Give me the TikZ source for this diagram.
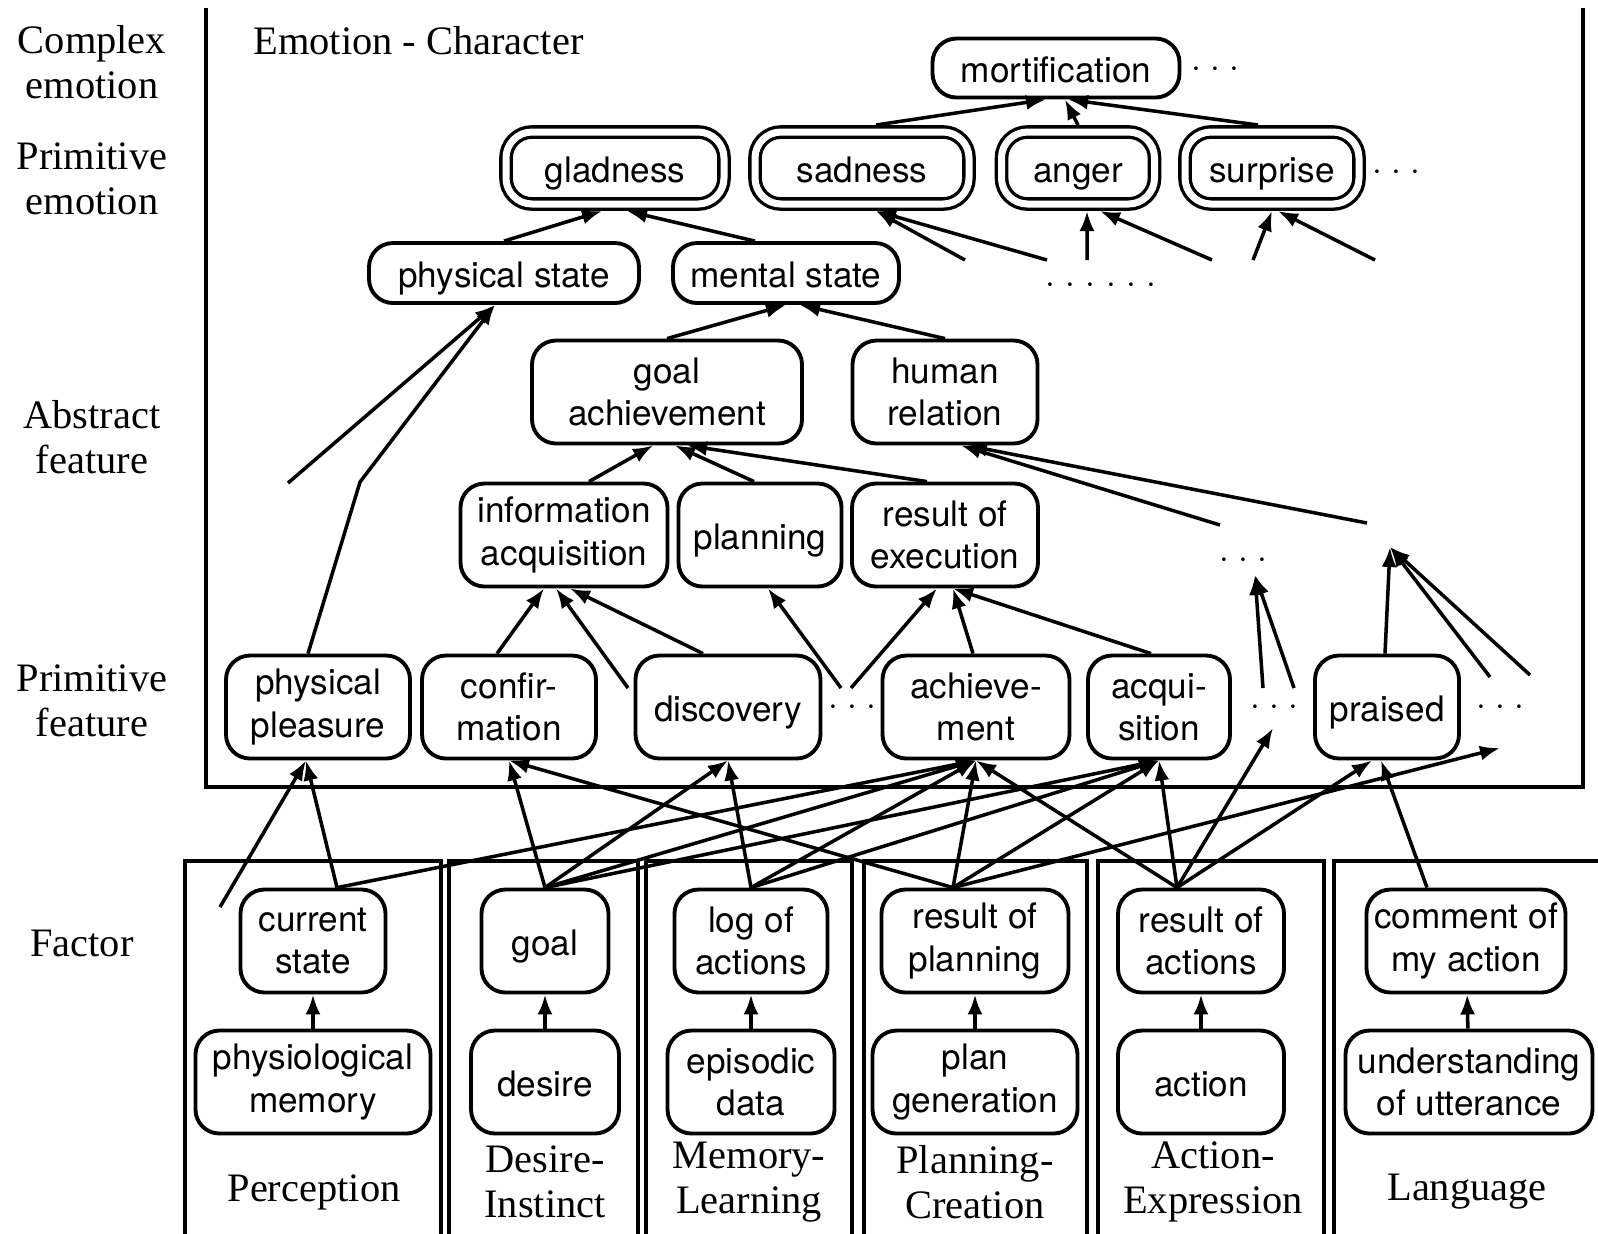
\documentclass[tikz,border=0pt]{standalone}
\usepackage{fontspec}
\setmainfont{Liberation Serif}
\setsansfont{TeX Gyre Heros}
\usetikzlibrary{arrows.meta}
\newcommand{\mdots}{·\kern2.6pt·\kern2.6pt·}
\newcommand{\sixdots}{·\kern3pt·\kern3pt·\kern3pt·\kern3pt·\kern3pt·}

\begin{document}
\begin{tikzpicture}[x=0.1mm, y=-0.1mm, line width=1pt, font=\sffamily\fontsize{10}{12}\selectfont,
  nodebox/.style={draw, line width=1.1pt, rounded corners=2.4mm, align=center, inner sep=0pt, minimum height=10.3mm},
  oneline/.style={text height=9pt, text depth=1pt},
  emo/.style={draw, double, double distance=0.7mm, line width=0.95pt, rounded corners=2.6mm, inner sep=0pt, outer sep=0.7mm, minimum height=7.2mm, oneline},
  lab/.style={font=\rmfamily\fontsize{11.5}{12.8}\selectfont, align=center},
  arr/.style={-{Latex[length=2mm,width=1.5mm]}}]
	\useasboundingbox (0,0) rectangle (1598,1233);
	% frames
	\draw[line width=1.1pt] (206,8) -- (206,787) -- (1583,787) -- (1583,8);
	\foreach \l/\r in {185/441, 449/638, 646/852, 864/1087, 1098/1324, 1334/1610}
	  \draw[line width=1.1pt] (\l,1240) -- (\l,861) -- (\r,861) -- (\r,1240);
	\node[lab, anchor=west] (title) at (240,41) {Emotion - Character};
	% level labels
	\node[lab] (lcomplex) at (92,62) {Complex\\emotion};
	\node[lab] (lprimemo) at (92,179) {Primitive\\emotion};
	\node[lab] (labstract) at (92,437) {Abstract\\feature};
	\node[lab] (lprimfeat) at (92,701) {Primitive\\feature};
	\node[lab] (lfactor) at (82,943) {Factor};
	% group labels
	\node[lab] (perc) at (314,1192) {Perception};
	\node[lab] (desinst) at (545,1182) {Desire-\\Instinct};
	\node[lab] (memlearn) at (749,1182) {Memory-\\Learning};
	\node[lab] (plancreat) at (975,1182) {Planning-\\Creation};
	\node[lab] (actexpr) at (1213,1182) {Action-\\Expression};
	\node[lab] (lang) at (1467,1192) {Language};

	% emotions
	\node[nodebox, oneline, minimum width=24.7mm, minimum height=5.9mm] (mort) at (1056,68) {mortification};
	\node[emo, minimum width=21.8mm] (glad) at (615,168) {gladness};
	\node[emo, minimum width=21.4mm] (sad) at (862,168) {sadness};
	\node[emo, minimum width=15.3mm] (anger) at (1078,168) {anger};
	\node[emo, minimum width=17.4mm] (surp) at (1272,168) {surprise};
	% abstract features
	\node[nodebox, oneline, minimum width=27mm, minimum height=6mm] (pstate) at (504,273) {physical state};
	\node[nodebox, oneline, minimum width=22.6mm, minimum height=6mm] (mstate) at (786,273) {mental state};
	\node[nodebox, minimum width=27mm] (goalach) at (667,392) {goal\\achievement};
	\node[nodebox, minimum width=18.5mm] (human) at (945,392) {human\\relation};
	\node[nodebox, minimum width=20.7mm] (info) at (564,535) {information\\acquisition};
	\node[nodebox, oneline, minimum width=16.3mm] (plan) at (760,535) {planning};
	\node[nodebox, minimum width=18.6mm] (exec) at (945,535) {result of\\execution};
	% primitive features
	\node[nodebox, minimum width=18.4mm] (pleas) at (318,707) {physical\\pleasure};
	\node[nodebox, minimum width=17.4mm] (confirm) at (509,707) {confir-\\mation};
	\node[nodebox, oneline, minimum width=18.5mm] (discov) at (728,707) {discovery};
	\node[nodebox, minimum width=18.7mm] (achiev) at (976,707) {achieve-\\ment};
	\node[nodebox, minimum width=14.2mm] (acqui) at (1159,707) {acqui-\\sition};
	\node[nodebox, oneline, minimum width=14.4mm] (praised) at (1387,707) {praised};
	% factors
	\node[nodebox, minimum width=14.5mm] (cstate) at (313,941) {current\\state};
	\node[nodebox, oneline, minimum width=12.7mm] (goal) at (545,941) {goal};
	\node[nodebox, minimum width=15.3mm] (log) at (751,941) {log of\\actions};
	\node[nodebox, minimum width=18.7mm] (rplan) at (975,941) {result of\\planning};
	\node[nodebox, minimum width=16.6mm] (ract) at (1201,941) {result of\\actions};
	\node[nodebox, minimum width=19.9mm] (comment) at (1466,941) {comment of\\my action};
	\node[nodebox, minimum width=23.5mm] (physmem) at (313,1082) {physiological\\memory};
	\node[nodebox, oneline, minimum width=14.8mm] (desire) at (545,1082) {desire};
	\node[nodebox, minimum width=16.7mm] (episod) at (751,1082) {episodic\\data};
	\node[nodebox, minimum width=20.5mm] (plangen) at (975,1082) {plan\\generation};
	\node[nodebox, oneline, minimum width=16.6mm] (action) at (1201,1082) {action};
	\node[nodebox, minimum width=24.7mm] (underst) at (1469,1082) {understanding\\of utterance};
	% dots
	\node (dmort) at (1215,72) {\mdots};
	\node (dsurp) at (1396,175) {\mdots};
	\node (dsix) at (1101,288) {\sixdots};
	\node (dexec) at (1243,563) {\mdots};
	\node (ddisc) at (852,710) {\mdots};
	\node (dacq) at (1274,710) {\mdots};
	\node (dpraise) at (1500,710) {\mdots};
	% free ends
	\coordinate (fps) at (288,483);
	\coordinate (bend) at (360,482);
	\coordinate (fs1) at (965,260);
	\coordinate (fs2) at (1047,260);
	\coordinate (fa1) at (1087,260);
	\coordinate (fa2) at (1212,260);
	\coordinate (fu1) at (1253,260);
	\coordinate (fu2) at (1375,260);
	\coordinate (fh1) at (1220,525);
	\coordinate (fh2) at (1367,523);
	\coordinate (fi) at (628,688);
	\coordinate (fp) at (841,688);
	\coordinate (fe) at (851,688);
	\coordinate (fd1) at (1263,688);
	\coordinate (fd2) at (1294,688);
	\coordinate (td) at (1255,575);
	\coordinate (tpr) at (1390,547);
	\coordinate (fr1) at (1490,677);
	\coordinate (fr2) at (1530,675);
	\coordinate (fpl) at (220,907);
	\coordinate (tdac) at (1273,728);
	\coordinate (tdpr) at (1500,748);

	% complex and primitive emotions
	\draw[arr] ([xshift=1.4mm]sad.north) -- ([xshift=-1mm]mort.south);
	\draw[arr] (anger.north) -- ([xshift=0.9mm]mort.south);
	\draw[arr] ([xshift=-1.4mm]surp.north) -- ([xshift=1.2mm]mort.south);
	\draw[arr] (pstate.north) -- ([xshift=-1.3mm]glad.south);
	\draw[arr] ([xshift=-3.1mm]mstate.north) -- ([xshift=1.2mm]glad.south);
	\draw[arr] (fs1) -- ([xshift=1.4mm]sad.south);
	\draw[arr] (fs2) -- ([xshift=1.4mm]sad.south);
	\draw[arr] (fa1) -- ([xshift=0.9mm]anger.south);
	\draw[arr] (fa2) -- ([xshift=2.2mm]anger.south);
	\draw[arr] (fu1) -- (surp.south);
	\draw[arr] (fu2) -- ([xshift=0.6mm]surp.south);
	% abstract features
	\draw[arr] (fps) -- ([xshift=-0.9mm]pstate.south);
	\draw[arr] ([xshift=-1mm]pleas.north) -- (bend) -- ([xshift=-0.9mm]pstate.south);
	\draw[arr] (goalach.north) -- (mstate.south);
	\draw[arr] (human.north) -- ([xshift=1.4mm]mstate.south);
	\draw[arr] ([xshift=2.5mm]info.north) -- ([xshift=-1.4mm]goalach.south);
	\draw[arr] ([xshift=-0.6mm]plan.north) -- ([xshift=0.8mm]goalach.south);
	\draw[arr] ([xshift=-1.8mm]exec.north) -- ([xshift=2mm]goalach.south);
	\draw[arr] (fh1) -- ([xshift=1.6mm]human.south);
	\draw[arr] (fh2) -- ([xshift=2.2mm]human.south);
	\draw[arr] ([xshift=-1.2mm]confirm.north) -- ([xshift=-2mm]info.south);
	\draw[arr] (fi) -- ([xshift=-0.8mm]info.south);
	\draw[arr] ([xshift=-2.5mm]discov.north) -- ([xshift=0.6mm]info.south);
	\draw[arr] (fp) -- ([xshift=0.8mm]plan.south);
	\draw[arr] (fe) -- ([xshift=-0.8mm]exec.south);
	\draw[arr] ([xshift=-0.3mm]achiev.north) -- ([xshift=0.8mm]exec.south);
	\draw[arr] ([xshift=-0.8mm]acqui.north) -- ([xshift=0.8mm]exec.south);
	\draw[arr] (fd1) -- (td);
	\draw[arr] (fd2) -- (td);
	\draw[arr] ([xshift=-0.2mm]praised.north) -- (tpr);
	\draw[arr] (fr1) -- (tpr);
	\draw[arr] (fr2) -- (tpr);
	% factors to primitive features
	\draw[arr] (fpl) -- ([xshift=-1.2mm]pleas.south);
	\draw[arr] ([xshift=2.4mm]cstate.north) -- ([xshift=-1.2mm]pleas.south);
	\draw[arr] ([xshift=2.4mm]cstate.north) -- (achiev.south);
	\draw[arr] (goal.north) -- (confirm.south);
	\draw[arr] (goal.north) -- (discov.south);
	\draw[arr] (goal.north) -- (achiev.south);
	\draw[arr] (goal.north) -- (acqui.south);
	\draw[arr] (log.north) -- (discov.south);
	\draw[arr] (log.north) -- (achiev.south);
	\draw[arr] (log.north) -- (acqui.south);
	\draw[arr] ([xshift=-2.2mm]rplan.north) -- (confirm.south);
	\draw[arr] ([xshift=-2.2mm]rplan.north) -- (achiev.south);
	\draw[arr] ([xshift=-2.2mm]rplan.north) -- (acqui.south);
	\draw[arr] ([xshift=-2.2mm]rplan.north) -- (tdpr);
	\draw[arr] ([xshift=-2.4mm]ract.north) -- (achiev.south);
	\draw[arr] ([xshift=-2.4mm]ract.north) -- (acqui.south);
	\draw[arr] ([xshift=-2.4mm]ract.north) -- (tdac);
	\draw[arr] ([xshift=-2.4mm]ract.north) -- ([xshift=-1.5mm]praised.south);
	\draw[arr] ([xshift=-3.9mm]comment.north) -- ([xshift=-0.6mm]praised.south);
	% inside the factor columns
	\foreach \a/\b in {physmem/cstate, desire/goal, episod/log, plangen/rplan, action/ract, underst/comment}
	  \draw[arr] (\a) -- (\b);
\end{tikzpicture}
\end{document}
